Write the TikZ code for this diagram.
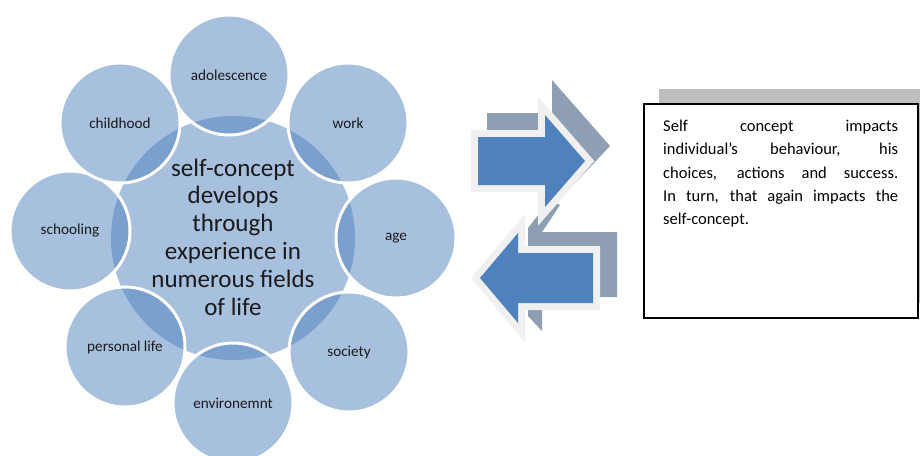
\documentclass[tikz,border=0pt]{standalone}
\usepackage{fontspec}
\setmainfont{Carlito}
\definecolor{accent}{HTML}{4F81BD}
\definecolor{arrowblue}{HTML}{4F81BD}
\definecolor{arrowback}{HTML}{8E9FB3}
\definecolor{arrowrim}{HTML}{F0F0F0}
\definecolor{shadowgrey}{HTML}{BFBFBF}
\definecolor{labeltext}{HTML}{1A1A1A}
\begin{document}
\begin{tikzpicture}[x=1pt,y=-1pt,
  hub/.style={circle, minimum size=244pt, inner sep=0pt, fill=accent, fill opacity=0.5, draw=none},
  sat/.style={circle, minimum size=120pt, inner sep=0pt, fill=accent, fill opacity=0.5, text opacity=1,
    draw=white, draw opacity=1, line width=3pt, text=labeltext, font=\fontsize{15.2}{17}\selectfont},
  hubtext/.style={align=center, text=labeltext, font=\fontsize{25}{27.8}\selectfont, inner sep=0pt},
  rim/.style={draw=arrowrim, line width=14pt, line join=miter},
  arrowface/.style={fill=arrowblue},
  arrowdepth/.style={fill=arrowback},
]
\useasboundingbox (0,0) rectangle (920,455);
\clip (0,0) rectangle (920,455);

% radial diagram
\node[hub] (hub) at (233,238) {};
\node[sat] (adol) at (229,75) {adolescence};
\node[sat] (work) at (348,123) {work};
\node[sat] (age) at (396,238) {age};
\node[sat] (soc) at (349,352) {society};
\node[sat] (env) at (233,403) {environemnt};
\node[sat] (pers) at (125,347) {personal life};
\node[sat] (school) at (70,231) {schooling};
\node[sat] (child) at (120,123) {childhood};
\node[hubtext] (hublabel) at (233,237) {self-concept\\develops\\through\\experience in\\numerous fields\\of life};

% bottom (left-pointing) arrow
\path[arrowdepth] (528,228) -- (550,200) -- (560,205) -- (542,232) -- (617,232) -- (617,297)
  -- (542,297) -- (542,331) -- (528,316) -- cycle;
\path[rim] (593,253) -- (518,253) -- (518,233) -- (480,278) -- (518,323) -- (518,303) -- (593,303) -- cycle;
\path[arrowface] (593,253) -- (518,253) -- (518,233) -- (480,278) -- (518,323) -- (518,303) -- (593,303) -- cycle;

% top (right-pointing) arrow
\path[arrowdepth] (487,113) -- (552,113) -- (552,80) -- (610,146) -- (545,215) -- (540,185) -- (487,185) -- cycle;
\path[rim] (478,137) -- (545,137) -- (545,115) -- (585,161) -- (545,207) -- (545,185) -- (478,185) -- cycle;
\path[arrowface] (478,137) -- (545,137) -- (545,115) -- (585,161) -- (545,207) -- (545,185) -- (478,185) -- cycle;

% text box
\node[fill=shadowgrey, minimum width=274pt, minimum height=214pt, anchor=north west, inner sep=0pt] (shadow) at (659,89) {};
\node[draw=black, line width=1.5pt, fill=white, minimum width=274pt, minimum height=214pt, anchor=north west, inner sep=0pt] (box) at (643,103) {};
\node[anchor=base west, inner sep=0pt, text=black, font=\fontsize{16.5}{23.3}\selectfont] (desc) at (663,131.5)
  {\parbox[t]{235pt}{\spaceskip=0.38em plus 2em minus 0.1em%
    \makebox[\linewidth][s]{Self concept impacts}\\
    \makebox[\linewidth][s]{individual’s behaviour, his}\\
    \makebox[\linewidth][s]{choices, actions and success.}\\
    \makebox[\linewidth][s]{In turn, that again impacts the}\\
    self-concept.}};
\end{tikzpicture}
\end{document}
